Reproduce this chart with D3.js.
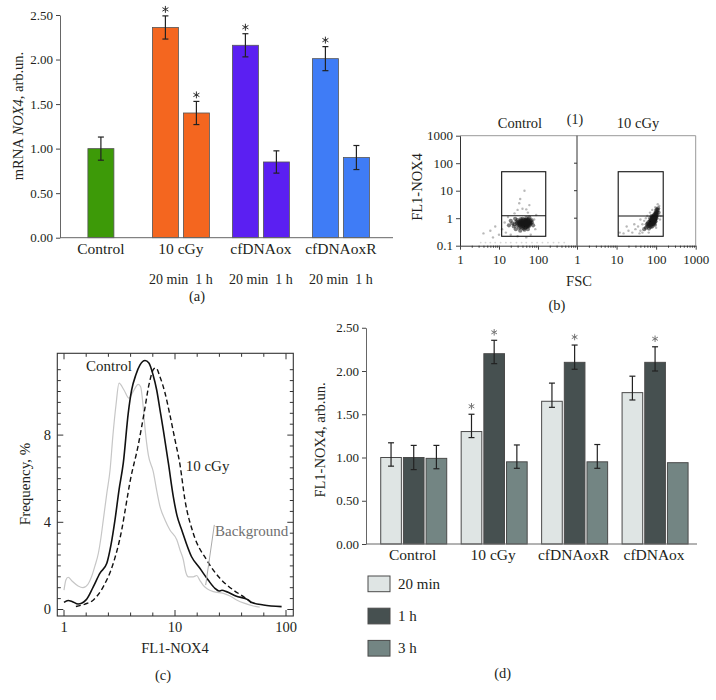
<!DOCTYPE html>
<html><head><meta charset="utf-8">
<script src="https://cdn.jsdelivr.net/npm/d3@7"></script>
<style>
body{margin:0;background:#fff;}
svg{display:block;font-family:"Liberation Serif","Times New Roman",serif;}
</style></head><body>
<svg id="chart" width="716" height="700"></svg>
<script>
// ================= DATA =================
// Panel (a): mRNA NOX4
const aGroups = ["Control", "10 cGy", "cfDNAox", "cfDNAoxR"];
const aValues = [[1.00], [2.36, 1.40], [2.16, 0.85], [2.01, 0.90]];
const aErrors = [[0.13], [0.13, 0.13], [0.13, 0.125], [0.135, 0.135]];
const aStars = [[0], [1, 1], [1, 0], [1, 0]];
const aSubLabels = ["", "20 min  1 h", "20 min  1 h", "20 min  1 h"];
const aTicks = [0, 0.5, 1, 1.5, 2, 2.5];

// Panel (b): flow cytometry dot plots (FSC, FL1-NOX4)
const bPanels = ["Control", "10 cGy"];
const bXTicksLeft = [1, 10, 100];
const bXTicksRight = [1, 10, 100, 1000];
const bYTicks = [0.1, 1, 10, 100, 1000];
const bGates = [[11.7, 158, 0.22, 49, 1.23], [11, 151, 0.22, 49, 1.2]]; // x0,x1,y0,y1,split
const bControlCore = [
 [25,0.6],[30,0.55],[35,0.7],[40,0.6],[45,0.65],[50,0.7],[55,0.6],[60,0.75],[38,0.8],[42,0.5],
 [48,0.55],[52,0.85],[33,0.45],[58,0.5],[65,0.65],[28,0.75],[36,0.62],[44,0.72],[47,0.45],[53,0.62],
 [62,0.58],[30,0.85],[40,0.95],[50,1.0],[57,0.9],[24,0.5],[27,0.4],[70,0.7],[68,0.85],[45,0.38],
 [55,0.4],[35,0.35],[22,0.65],[20,0.8],[42,0.68],[49,0.78],[39,0.52],[46,0.58],[51,0.5],[43,0.88],
 [60,1.05],[32,0.62],[37,0.75],[54,0.72],[64,0.8],[18,0.55],[75,0.55],[26,0.95],[41,0.64],[47,0.7],
 [44,0.6],[38,0.66],[52,0.66],[56,0.78],[34,0.55],[29,0.65],[48,0.85],[58,0.68],[43,0.42],[36,0.48],
 [41,0.58],[46,0.66],[39,0.72],[53,0.55],[49,0.62],[44,0.52],[37,0.58],[51,0.74],[56,0.66],[42,0.78],
 [47,0.82],[34,0.68],[59,0.62],[45,0.7],[40,0.45],[50,0.48],[55,0.85],[31,0.72],[63,0.7],[36,0.9],
 [48,0.6],[43,0.64],[52,0.58],[38,0.62],[46,0.74],[57,0.56],[41,0.68],[35,0.78],[54,0.5],[61,0.66]
];
const bControlSparse = [
 [15,0.3],[12,0.4],[14,0.7],[17,1.1],[30,2.0],[40,2.2],[50,2.1],[35,5],[45,10],[60,3],[25,1.5],
 [80,0.9],[85,0.4],[10,0.25],[6,0.35],[4,0.28],[7,0.2],[20,0.25],[30,0.22],[50,0.2],[65,0.25],
 [90,1.3],[33,3.5],[55,1.6],[8,0.5]
];
const bIrradCore = [
 [80,0.8],[85,0.9],[90,1.0],[75,0.7],[70,0.65],[95,1.1],[100,1.3],[88,0.75],[78,0.95],[92,0.85],
 [65,0.55],[60,0.5],[72,0.85],[82,1.1],[98,1.5],[105,1.7],[110,2.0],[86,0.6],[76,0.55],[68,0.75],
 [94,1.2],[102,1.0],[83,0.7],[79,0.62],[91,1.4],[55,0.45],[62,0.62],[73,0.48],[87,1.25],[108,1.3],
 [96,0.95],[84,0.82],[74,0.78],[81,1.02],[89,0.68],[99,1.8],[112,2.3],[66,0.42],[58,0.6],[50,0.4],
 [97,0.78],[77,1.2],[103,2.1],[93,0.58],[71,1.0],[80,0.5],[115,1.6],[63,0.7],[86,0.88],[82,0.76],
 [90,0.92],[78,0.82],[94,1.0],[88,1.05],[84,0.66],[100,1.15],
 [84,0.85],[88,0.95],[80,0.72],[92,1.05],[76,0.66],[86,0.78],[90,0.88],[82,0.92],[96,1.25],[78,0.75],
 [85,1.0],[93,0.9],[74,0.62],[88,1.15],[100,1.45],[80,0.85],[86,0.7],[95,1.35],[70,0.58],[83,0.8],
 [91,1.1],[77,0.9],[89,0.82],[97,1.05],[102,1.6],[68,0.52],[81,0.68],[87,0.98],[94,0.74],[79,1.05]
];
const bIrradSparse = [
 [40,0.35],[35,0.5],[45,0.6],[30,0.4],[25,0.3],[20,0.35],[15,0.28],[12,0.3],[50,0.8],[40,0.9],
 [60,1.2],[70,1.6],[120,2.8],[110,3.2],[95,2.5],[80,2.0],[55,1.0],[28,0.6],[18,0.5],[130,1.2],
 [45,0.3],[125,0.9],[100,0.45],[38,0.28],[65,0.3]
];
const bNoisePoints = [[3.4,0.13],[4.5,0.13],[6,0.13],[8,0.13],[11,0.13],[15,0.13],[20,0.13],[28,0.13],
 [38,0.13],[50,0.13],[70,0.13],[95,0.13],[130,0.13],[180,0.13],[250,0.13],[340,0.13],[470,0.13]];

// Panel (c): FL1-NOX4 histograms [FL1, frequency %]
const cControl = [[1.00,0.33],[1.09,0.41],[1.18,0.37],[1.34,0.25],[1.58,0.44],[1.83,1.03],[2.11,1.67],
 [2.43,2.12],[2.65,2.96],[2.88,4.11],[3.13,5.48],[3.42,6.71],[3.79,9.0],[4.07,10.07],[4.45,10.78],
 [4.84,11.22],[5.37,11.42],[5.82,11.31],[6.33,10.78],[6.84,10.07],[7.33,9.15],[7.85,8.23],[8.72,6.71],
 [9.66,5.17],[10.4,4.33],[11.5,3.65],[14.1,2.42],[16.7,1.90],[19.9,1.35],[22.9,0.97],[24.9,0.85],
 [26.5,0.88],[29.1,0.82],[35.3,0.62],[45.7,0.44],[49.3,0.32],[62.6,0.21],[91.3,0.13]];
const c10cGy = [[1.28,0.14],[1.55,0.25],[1.84,0.44],[2.26,1.05],[2.78,2.12],[3.31,3.65],[3.62,4.79],
 [3.93,5.85],[4.67,7.55],[5.29,9.07],[5.82,10.30],[6.51,11.06],[6.74,11.08],[7.33,10.67],[8.13,9.93],
 [9.0,8.92],[10.0,7.78],[11.1,6.63],[12.3,5.02],[14.6,3.50],[19.3,2.27],[25.4,1.43],[33.6,0.89],
 [41.4,0.59],[49.0,0.30]];
const cBackground = [[1.0,0.89],[1.04,1.35],[1.09,1.48],[1.18,1.31],[1.34,1.08],[1.48,1.0],[1.65,1.17],
 [1.77,1.50],[1.90,2.0],[2.04,2.58],[2.15,3.28],[2.26,4.11],[2.43,5.33],[2.60,6.40],[2.76,8.0],
 [2.94,9.38],[3.13,10.38],[3.47,10.07],[3.85,9.69],[4.18,9.98],[4.67,10.33],[4.91,10.21],[5.15,9.38],
 [5.37,8.31],[5.75,7.09],[6.37,6.32],[6.83,5.48],[7.33,4.72],[8.13,4.11],[9.0,3.65],[10.4,3.19],
 [11.1,2.73],[11.9,2.27],[12.5,1.72],[13.2,1.50],[14.6,1.50],[15.7,1.56],[16.7,1.35],[17.9,1.12],
 [22.2,0.82],[27.3,0.74],[31.3,0.62],[35.9,0.44],[42.6,0.28],[50.8,0.16],[58,0.11]];
const cLeader = [[22.6,3.88],[18.9,1.12]];
const cXTickLabels = [1, 10, 100];
const cYTickLabels = [0, 4, 8];

// Panel (d): FL1-NOX4 by time
const dGroups = ["Control", "10 cGy", "cfDNAoxR", "cfDNAox"];
const dTimes = ["20 min", "1 h", "3 h"];
const dValues = [[1.00,1.00,0.99],[1.30,2.20,0.95],[1.65,2.10,0.95],[1.75,2.10,0.94]];
const dErrHigh = [[1.17,1.14,1.14],[1.50,2.355,1.145],[1.86,2.30,1.15],[1.94,2.28,null]];
const dErrLow = [[0.90,0.86,0.87],[1.23,2.085,0.875],[1.58,2.02,0.875],[1.665,2.00,null]];
const dStars = [[0,0,0],[1,1,0],[0,1,0],[0,1,0]];
const dTicks = [0, 0.5, 1, 1.5, 2, 2.5];

// ================= STYLE =================
const TXT = "#231f20";
const aColors = ["#3d9a08", "#f4661f", "#5b1ff2", "#3f7cf6"];
const dColors = ["#dfe5e4", "#465050", "#738583"];
const svg = d3.select("#chart");
svg.append("rect").attr("width",716).attr("height",700).attr("fill","#fff");

function styleAxis(g, fs) {
  g.select(".domain").attr("stroke","#666");
  g.selectAll(".tick line").attr("stroke","#444");
  g.selectAll(".tick text").attr("fill",TXT).style("font-size",fs+"px").style("font-family","Liberation Serif");
}
function label(x, y, t, fs, opts={}) {
  const el = svg.append("text").attr("x",x).attr("y",y).attr("text-anchor",opts.anchor||"middle")
    .attr("fill",opts.fill||TXT).style("font-size",fs+"px").style("white-space","pre").text(t);
  return el;
}
function vlabel(x, y, parts, fs) {
  const t = svg.append("text").attr("transform",`translate(${x},${y}) rotate(-90)`)
    .attr("text-anchor","middle").attr("dy","0.35em").attr("fill",TXT).style("font-size",fs+"px");
  parts.forEach(p => t.append("tspan").style("font-style", p[1] ? "italic" : "normal").text(p[0]));
}
function star(x, y, fs, col) {
  // drawn asterisk (six spokes) so that it renders the same everywhere
  const r = fs*0.22;
  const g = svg.append("g").attr("stroke",col).attr("stroke-width",1).attr("stroke-linecap","round");
  [90, 30, 150, 210, 330, 270].forEach(a => {
    const rad = a*Math.PI/180;
    g.append("line").attr("x1",x).attr("y1",y).attr("x2",x+r*Math.cos(rad)).attr("y2",y-r*Math.sin(rad));
  });
}

// ================= PANEL A =================
{
  const y = d3.scaleLinear().domain([0, 2.5]).range([237.7, 15]);
  const x = d3.scaleBand().domain(aGroups).range([60.9, 380.9]);
  const W = 26, G = 5;
  const ax = svg.append("g").attr("transform","translate(60,0)")
    .call(d3.axisLeft(y).tickValues(aTicks).tickFormat(d3.format(".2f")).tickSize(4).tickSizeOuter(0));
  styleAxis(ax, 13);
  aGroups.forEach((gname, i) => {
    const vals = aValues[i], n = vals.length;
    const c = x(gname) + x.bandwidth()/2;
    const start = c - (n*W + (n-1)*G)/2;
    vals.forEach((v, j) => {
      const bx = start + j*(W+G);
      svg.append("rect").attr("x",bx).attr("y",y(v)).attr("width",W).attr("height",y(0)-y(v))
        .attr("fill",aColors[i]).attr("stroke","#555").attr("stroke-width",0.8);
      const e = aErrors[i][j], cx = bx + W/2;
      const g = svg.append("g").attr("stroke","#222").attr("stroke-width",1.2);
      g.append("line").attr("x1",cx).attr("x2",cx).attr("y1",y(v-e)).attr("y2",y(v+e));
      g.append("line").attr("x1",cx-3).attr("x2",cx+3).attr("y1",y(v-e)).attr("y2",y(v-e));
      g.append("line").attr("x1",cx-3).attr("x2",cx+3).attr("y1",y(v+e)).attr("y2",y(v+e));
      if (aStars[i][j]) star(cx, y(v+e)-6.5, 14, "#333");
    });
    label(c, 254, gname, 15.5);
    if (aSubLabels[i]) label(c, 284, aSubLabels[i], 14);
  });
  svg.append("line").attr("x1",60).attr("x2",393).attr("y1",y(0)).attr("y2",y(0)).attr("stroke","#666");
  vlabel(17.5, 116, [["mRNA ",0],["NOX4",1],[", arb.un.",0]], 14.5);
  label(197, 301, "(a)", 14.5);
}

// ================= PANEL B =================
{
  const y = d3.scaleLog().domain([0.1, 1000]).range([245.7, 135.7]);
  const xs = [d3.scaleLog().domain([1,1000]).range([460,577]), d3.scaleLog().domain([1,1000]).range([577,695.7])];
  const xTicks = [bXTicksLeft, bXTicksRight];
  const core = [bControlCore, bIrradCore];
  const sparse = [bControlSparse, bIrradSparse];
  const defs = svg.append("defs");
  defs.append("filter").attr("id","soft").append("feGaussianBlur").attr("stdDeviation",0.6);
  // frame
  svg.append("line").attr("x1",460).attr("x2",695.7).attr("y1",135.7).attr("y2",135.7).attr("stroke","#999");
  svg.append("line").attr("x1",695.7).attr("x2",695.7).attr("y1",135.7).attr("y2",245.7).attr("stroke","#999");
  svg.append("line").attr("x1",577).attr("x2",577).attr("y1",135.7).attr("y2",245.7).attr("stroke","#333");
  const ay = svg.append("g").attr("transform","translate(460,0)")
    .call(d3.axisLeft(y).tickValues(bYTicks).tickFormat(d3.format("~g")).tickSize(4).tickSizeOuter(0));
  styleAxis(ay, 13); ay.select(".domain").attr("stroke","#333");
  svg.append("g").selectAll("line").data(bYTicks.slice(1,4)).join("line")
    .attr("x1",574).attr("x2",577).attr("y1",d=>y(d)).attr("y2",d=>y(d)).attr("stroke","#333");
  bPanels.forEach((p, k) => {
    const x = xs[k];
    const minor = [];
    [1,10,100].forEach(dec => { for (let m=2;m<=9;m++) minor.push(dec*m); });
    const gm = svg.append("g").attr("transform","translate(0,245.7)")
      .call(d3.axisBottom(x).tickValues(minor).tickFormat("").tickSize(2).tickSizeOuter(0));
    gm.select(".domain").remove(); gm.selectAll("line").attr("stroke","#333");
    const gM = svg.append("g").attr("transform","translate(0,245.7)")
      .call(d3.axisBottom(x).tickValues(xTicks[k]).tickFormat(d3.format("~g")).tickSize(4).tickSizeOuter(0));
    styleAxis(gM, 13); gM.select(".domain").attr("stroke","#333");
    gM.selectAll(".tick text").attr("dy","0.9em");
    const gp = svg.append("g").attr("filter","url(#soft)");
    gp.selectAll("circle.n").data(k===0 ? bNoisePoints : []).join("circle").attr("class","n")
      .attr("cx",d=>x(d[0])).attr("cy",d=>y(d[1])).attr("r",0.9).attr("fill","#bbb").attr("opacity",0.6);
    gp.selectAll("circle.s").data(sparse[k]).join("circle").attr("class","s")
      .attr("cx",d=>x(d[0])).attr("cy",d=>y(d[1])).attr("r",1.2).attr("fill","#333").attr("opacity",0.35);
    gp.selectAll("circle.c").data(core[k]).join("circle").attr("class","c")
      .attr("cx",d=>x(d[0])).attr("cy",d=>y(d[1])).attr("r",2.1).attr("fill","#151515").attr("opacity",0.55);
    const gt = bGates[k];
    svg.append("rect").attr("x",x(gt[0])).attr("y",y(gt[3])).attr("width",x(gt[1])-x(gt[0]))
      .attr("height",y(gt[2])-y(gt[3])).attr("fill","none").attr("stroke","#111").attr("stroke-width",1.1);
    svg.append("line").attr("x1",x(gt[0])).attr("x2",x(gt[1])).attr("y1",y(gt[4])).attr("y2",y(gt[4]))
      .attr("stroke","#111").attr("stroke-width",1.1);
  });
  label(520, 128, "Control", 14.5);
  label(575, 124, "(1)", 14);
  label(638, 128, "10 cGy", 14.5);
  label(579, 286, "FSC", 14.5);
  vlabel(416.7, 187, [["FL1-NOX4",0]], 14.5);
  label(557, 310, "(b)", 14.5);
}

// ================= PANEL C =================
{
  const x = d3.scaleLog().domain([1, 100]).range([64, 286]);
  const y = d3.scaleLinear().domain([0, 12]).range([609.5, 347.9]);
  const L = 57.3, R = 293.3, T = 353.3, B = 616;
  const g = svg.append("g");
  const xt = d3.range(0, 11).map(k => Math.pow(10, k*0.2));
  xt.forEach((v, k) => {
    const len = (k % 5 === 0) ? 6 : 3.5;
    g.append("line").attr("x1",x(v)).attr("x2",x(v)).attr("y1",B).attr("y2",B-len).attr("stroke","#333");
    g.append("line").attr("x1",x(v)).attr("x2",x(v)).attr("y1",T).attr("y2",T+len).attr("stroke","#333");
  });
  const yt = d3.range(0, 23).map(k => k*0.5);
  yt.forEach(v => {
    const len = (v % 4 === 0) ? 6 : 3.5;
    g.append("line").attr("x1",L).attr("x2",L+len).attr("y1",y(v)).attr("y2",y(v)).attr("stroke","#333");
    g.append("line").attr("x1",R).attr("x2",R-len).attr("y1",y(v)).attr("y2",y(v)).attr("stroke","#333");
  });
  g.append("rect").attr("x",L).attr("y",T).attr("width",R-L).attr("height",B-T)
    .attr("fill","none").attr("stroke","#333").attr("stroke-width",1.1);
  const line = d3.line().x(d=>x(d[0])).y(d=>y(d[1])).curve(d3.curveMonotoneX);
  g.append("path").datum(cBackground).attr("d",line).attr("fill","none").attr("stroke","#c6c6c6").attr("stroke-width",1.2);
  g.append("path").datum(c10cGy).attr("d",line).attr("fill","none").attr("stroke","#111").attr("stroke-width",1.4).attr("stroke-dasharray","5,3");
  g.append("path").datum(cControl).attr("d",line).attr("fill","none").attr("stroke","#111").attr("stroke-width",1.6);
  g.append("line").attr("x1",x(cLeader[0][0])).attr("y1",y(cLeader[0][1]))
    .attr("x2",x(cLeader[1][0])).attr("y2",y(cLeader[1][1])).attr("stroke","#aaa").attr("stroke-width",1);
  cXTickLabels.forEach(v => label(x(v), 632, String(v), 14.5));
  cYTickLabels.forEach(v => label(51, y(v)+4.5, String(v), 14.5, {anchor:"end"}));
  label(109, 371, "Control", 15);
  label(185.7, 471, "10 cGy", 15, {anchor:"start"});
  label(215, 536, "Background", 15, {anchor:"start", fill:"#6f6f6f"});
  vlabel(25, 484, [["Frequency, %",0]], 15);
  label(175, 653, "FL1-NOX4", 14.5);
  label(163, 680, "(c)", 14.5);
}

// ================= PANEL D =================
{
  const y = d3.scaleLinear().domain([0, 2.5]).range([544, 327.75]);
  const x = d3.scaleBand().domain(dGroups).range([372.5, 694.3]);
  const sub = d3.scaleBand().domain(dTimes).range([-32, 34]).paddingInner(0.09);
  const ax = svg.append("g").attr("transform","translate(366,0)")
    .call(d3.axisLeft(y).tickValues(dTicks).tickFormat(d3.format(".2f")).tickSize(4).tickSizeOuter(0));
  styleAxis(ax, 13);
  dGroups.forEach((gname, i) => {
    const c = x(gname) + x.bandwidth()/2;
    dTimes.forEach((t, j) => {
      const v = dValues[i][j];
      const bx = c + sub(t), W = sub.bandwidth();
      svg.append("rect").attr("x",bx).attr("y",y(v)).attr("width",W).attr("height",y(0)-y(v))
        .attr("fill",dColors[j]).attr("stroke","#4a4a4a").attr("stroke-width",1);
      const hi = dErrHigh[i][j], lo = dErrLow[i][j], cx = bx + W/2;
      if (hi != null) {
        const g = svg.append("g").attr("stroke","#222").attr("stroke-width",1.2);
        g.append("line").attr("x1",cx).attr("x2",cx).attr("y1",y(lo)).attr("y2",y(hi));
        g.append("line").attr("x1",cx-3).attr("x2",cx+3).attr("y1",y(lo)).attr("y2",y(lo));
        g.append("line").attr("x1",cx-3).attr("x2",cx+3).attr("y1",y(hi)).attr("y2",y(hi));
        if (dStars[i][j]) star(cx, y(hi)-8, 13, "#777");
      }
    });
    label(c, 559.5, gname, 15.5);
  });
  svg.append("line").attr("x1",366).attr("x2",697).attr("y1",y(0)).attr("y2",y(0)).attr("stroke","#666");
  dTimes.forEach((t, j) => {
    const ly = 576 + j*32.2;
    svg.append("rect").attr("x",368).attr("y",ly).attr("width",22).attr("height",15.7)
      .attr("fill",dColors[j]).attr("stroke","#4a4a4a").attr("stroke-width",1);
    label(398, ly+12.5, t, 15, {anchor:"start"});
  });
  vlabel(320, 440, [["FL1-NOX4, arb.un.",0]], 14.5);
  label(502.7, 678, "(d)", 14.5);
}
</script>
</body></html>
